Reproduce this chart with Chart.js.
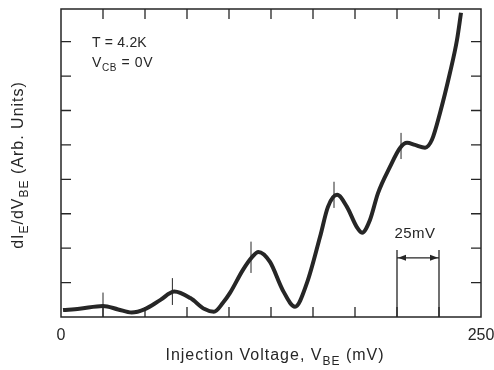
<!DOCTYPE html>
<html>
<head>
<meta charset="utf-8">
<script src="https://cdn.jsdelivr.net/npm/chart.js@4/dist/chart.umd.min.js"></script>
<style>
    body { margin: 0; background: #fff; }
    #wrap { width: 494px; height: 370px; }
</style>
</head>
<body>
<div id="wrap"><canvas id="spectrum" width="494" height="370"></canvas></div>
<script>
// 数据：注入电压 (mV) 与 dI/dV (任意单位)
const voltage = [1.2, 11, 25, 34, 42, 50, 59, 67.5, 77, 85.5, 91, 96.5, 100.6, 108.3, 113.7, 117.5,
    124.4, 132, 139.3, 146.4, 154.2, 158.9, 164.3, 170.2, 176, 179.2, 183.9, 188.7, 195.8, 201.8,
    206, 210.7, 216.7, 220.8, 225.6, 231.5, 235.7, 238.1];
const conductance = [0.20, 0.24, 0.32, 0.22, 0.13, 0.23, 0.49, 0.74, 0.55, 0.23, 0.15, 0.42, 0.70, 1.37, 1.74, 1.89,
    1.60, 0.78, 0.30, 0.99, 2.33, 3.20, 3.55, 3.20, 2.62, 2.45, 2.82, 3.60, 4.36, 4.91,
    5.06, 5.00, 4.92, 5.15, 5.93, 7.09, 8.05, 8.84];

// 峰位标记 [电压, 下端, 上端]
const peakMarkers = [[25, 0, 0.71], [66.3, 0.35, 1.13], [113.1, 1.28, 2.19], [162.5, 3.17, 3.93], [202.4, 4.59, 5.35]];

// 坐标轴
const xTicks = [0, 25, 50, 75, 100, 125, 150, 175, 200, 225, 250];
const xLabels = [0, 250];
const yTicks = [1, 2, 3, 4, 5, 6, 7, 8];
const yMax = 8.95;

// 25mV 标尺
const scaleBar = { from: 200, to: 225, top: 1.95, arrow: 1.72, label: '25mV' };

const INK = '#262626';
const FONT = '"Liberation Sans", Arial, sans-serif';

// 绘制带下标的文字
function drawRich(ctx, parts, x, y, size, align, spacing) {
    const subSize = Math.round(size * 0.72);
    ctx.letterSpacing = (spacing || 0) + 'px';
    let total = 0;
    parts.forEach(p => {
        ctx.font = (p[1] ? subSize : size) + 'px ' + FONT;
        total += ctx.measureText(p[0]).width;
    });
    let cx = align === 'center' ? x - total / 2 : x;
    ctx.textAlign = 'left';
    ctx.textBaseline = 'alphabetic';
    parts.forEach(p => {
        ctx.font = (p[1] ? subSize : size) + 'px ' + FONT;
        ctx.fillText(p[0], cx, p[1] ? y + size * 0.3 : y);
        cx += ctx.measureText(p[0]).width;
    });
    ctx.letterSpacing = '0px';
}

// 边框、内向刻度、标记和文字
const decorPlugin = {
    id: 'decor',
    afterDatasetsDraw(chart) {
        const ctx = chart.ctx;
        const area = chart.chartArea;
        const xs = chart.scales.x;
        const ys = chart.scales.y;
        ctx.save();
        ctx.strokeStyle = INK;
        ctx.fillStyle = INK;

        // 边框
        ctx.lineWidth = 1.5;
        ctx.strokeRect(area.left, area.top, area.right - area.left, area.bottom - area.top);

        // 刻度
        ctx.lineWidth = 1.3;
        ctx.beginPath();
        xTicks.slice(1, -1).forEach(v => {
            const px = xs.getPixelForValue(v);
            ctx.moveTo(px, area.bottom); ctx.lineTo(px, area.bottom - 10);
            ctx.moveTo(px, area.top); ctx.lineTo(px, area.top + 10);
        });
        yTicks.forEach(v => {
            const py = ys.getPixelForValue(v);
            ctx.moveTo(area.left, py); ctx.lineTo(area.left + 10, py);
            ctx.moveTo(area.right, py); ctx.lineTo(area.right - 10, py);
        });
        ctx.stroke();

        // 峰位标记
        ctx.lineWidth = 1;
        ctx.beginPath();
        peakMarkers.forEach(m => {
            const px = xs.getPixelForValue(m[0]);
            ctx.moveTo(px, ys.getPixelForValue(m[1]));
            ctx.lineTo(px, ys.getPixelForValue(m[2]));
        });
        ctx.stroke();

        // 25mV 标尺
        const x1 = xs.getPixelForValue(scaleBar.from);
        const x2 = xs.getPixelForValue(scaleBar.to);
        const yt = ys.getPixelForValue(scaleBar.top);
        const ya = ys.getPixelForValue(scaleBar.arrow);
        ctx.lineWidth = 1.3;
        ctx.beginPath();
        ctx.moveTo(x1, yt); ctx.lineTo(x1, area.bottom);
        ctx.moveTo(x2, yt); ctx.lineTo(x2, area.bottom);
        ctx.moveTo(x1, ya); ctx.lineTo(x2, ya);
        ctx.stroke();
        ctx.beginPath();
        ctx.moveTo(x1 + 1, ya); ctx.lineTo(x1 + 9, ya - 3); ctx.lineTo(x1 + 9, ya + 3); ctx.closePath();
        ctx.moveTo(x2 - 1, ya); ctx.lineTo(x2 - 9, ya - 3); ctx.lineTo(x2 - 9, ya + 3); ctx.closePath();
        ctx.fill();
        drawRich(ctx, [[scaleBar.label, false]], (x1 + x2) / 2 - 3, yt - 12, 15, 'center', 0.5);

        // 实验条件
        drawRich(ctx, [['T = 4.2K', false]], area.left + 31, area.top + 38, 14, 'left', 0.2);
        drawRich(ctx, [['V', false], ['CB', true], [' = 0V', false]], area.left + 31, area.top + 58, 14, 'left', 0.6);

        // 坐标轴标题
        drawRich(ctx, [['Injection Voltage, V', false], ['BE', true], [' (mV)', false]],
            275, 360, 16, 'center', 1);
        ctx.translate(23, 165);
        ctx.rotate(-Math.PI / 2);
        drawRich(ctx, [['dI', false], ['E', true], ['/dV', false], ['BE', true], [' (Arb. Units)', false]],
            0, 0, 16, 'center', 1);
        ctx.restore();
    }
};

function initializeSpectrumChart() {
    const ctx = document.getElementById('spectrum');
    const points = voltage.map((v, i) => ({ x: v, y: conductance[i] }));

    new Chart(ctx, {
        type: 'line',
        data: {
            datasets: [{
                data: points,
                borderColor: INK,
                borderWidth: 4,
                pointRadius: 0,
                cubicInterpolationMode: 'monotone'
            }, {
                data: points,
                borderColor: 'rgba(255, 255, 255, 0.5)',
                borderWidth: 1,
                borderDash: [1, 3],
                pointRadius: 0,
                cubicInterpolationMode: 'monotone'
            }]
        },
        options: {
            responsive: false,
            animation: false,
            events: [],
            layout: { padding: { left: 61, right: 13, top: 9, bottom: 0 } },
            plugins: {
                legend: { display: false },
                tooltip: { enabled: false }
            },
            scales: {
                x: {
                    type: 'linear',
                    min: 0,
                    max: 250,
                    grid: { display: false },
                    border: { display: false },
                    afterBuildTicks: scale => { scale.ticks = xTicks.map(v => ({ value: v })); },
                    afterFit: scale => {
                        scale.height = 53;
                        scale.paddingLeft = 0;
                        scale.paddingRight = 0;
                    },
                    ticks: {
                        autoSkip: false,
                        maxRotation: 0,
                        padding: 1,
                        color: INK,
                        font: { family: FONT, size: 16 },
                        callback: v => xLabels.includes(v) ? String(v) : ''
                    }
                },
                y: {
                    display: false,
                    min: 0,
                    max: yMax
                }
            }
        },
        plugins: [decorPlugin]
    });
}

document.addEventListener('DOMContentLoaded', initializeSpectrumChart);
</script>
</body>
</html>
